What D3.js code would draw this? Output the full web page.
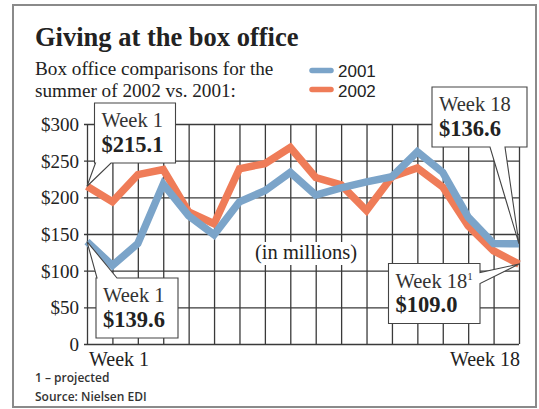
<!DOCTYPE html>
<html>
<head>
<meta charset="utf-8">
<script src="https://cdn.jsdelivr.net/npm/d3@7"></script>
<style>
  html, body { margin: 0; padding: 0; background: #fff; }
  svg { display: block; }
</style>
</head>
<body>
<svg id="chart" width="539" height="409"></svg>
<script>
// Weekly summer box office grosses, in millions of dollars
const weeks = d3.range(1, 19);
const gross2001 = [139.6, 107, 137, 218, 175, 149, 194, 209, 234, 203, 213, 221, 228, 262, 234, 173, 137, 136.6];
const gross2002 = [215.1, 194, 231, 238, 180, 164, 239, 246, 268, 227, 217, 182, 228, 240, 214, 161, 127, 109.0];
const seriesNames = ["2001", "2002"];
const seriesColors = ["#7ba4c9", "#ef7c58"];
const yTicks = [0, 50, 100, 150, 200, 250, 300];
const xLabels = ["Week 1", "Week 18"];

const serif = "'Liberation Serif', 'DejaVu Serif', serif";
const sans = "'Liberation Sans', 'DejaVu Sans', sans-serif";
const noteFont = "'Open Sans', 'Liberation Sans', sans-serif";
const ink = "#222";
const gridInk = "#3a3a3a";

const svg = d3.select("#chart");

// outer frame
svg.append("rect")
  .attr("x", 13).attr("y", 5).attr("width", 523).attr("height", 402)
  .attr("fill", "#fff").attr("stroke", "#8a8a8a").attr("stroke-width", 2);

// headings
svg.append("text")
  .attr("x", 35).attr("y", 46)
  .attr("font-family", serif).attr("font-weight", "bold").attr("font-size", 26.5)
  .attr("fill", ink)
  .text("Giving at the box office");

const sub = svg.append("text")
  .attr("font-family", serif).attr("font-size", 19.2).attr("fill", ink);
sub.append("tspan").attr("x", 35).attr("y", 74.5).text("Box office comparisons for the");
sub.append("tspan").attr("x", 35).attr("y", 97).text("summer of 2002 vs. 2001:");

// legend
const legend = svg.append("g");
seriesNames.forEach((name, i) => {
  const yy = 70.5 + i * 19;
  legend.append("line")
    .attr("x1", 312).attr("x2", 331).attr("y1", yy).attr("y2", yy)
    .attr("stroke", seriesColors[i]).attr("stroke-width", 5.5)
    .attr("stroke-linecap", "round");
  legend.append("text")
    .attr("x", 338).attr("y", yy + 6 + i * 1.5)
    .attr("font-family", sans).attr("font-size", 17).attr("fill", ink)
    .text(name);
});

// scales
const x = d3.scaleLinear().domain([1, 18]).range([87, 519]);
const y = d3.scaleLinear().domain([0, 300]).range([344, 124]);

// grid
const grid = svg.append("g");
grid.append("g")
  .attr("transform", `translate(${x(1)},0)`)
  .call(d3.axisLeft(y).tickValues(yTicks).tickSize(-(x(18) - x(1))).tickSizeOuter(0)
    .tickPadding(8).tickFormat(d => d === 0 ? "0" : "$" + d))
  .call(g => g.select(".domain").remove())
  .call(g => g.selectAll(".tick line").attr("x1", -3).attr("stroke", gridInk).attr("stroke-width", 1.3))
  .call(g => g.selectAll(".tick text")
    .attr("font-family", serif).attr("font-size", 19).attr("fill", ink).attr("dy", "0.34em"));

grid.append("g")
  .attr("transform", `translate(0,${y(0)})`)
  .call(d3.axisBottom(x).tickValues(weeks).tickSize(-(y(0) - y(300))).tickSizeOuter(0)
    .tickFormat(""))
  .call(g => g.select(".domain").remove())
  .call(g => g.selectAll(".tick line").attr("stroke", gridInk).attr("stroke-width", 1.3));

// x labels
svg.append("text")
  .attr("x", x(1) + 2).attr("y", 366)
  .attr("font-family", serif).attr("font-size", 20).attr("fill", ink)
  .text(xLabels[0]);
svg.append("text")
  .attr("x", x(18) + 1).attr("y", 366).attr("text-anchor", "end")
  .attr("font-family", serif).attr("font-size", 20).attr("fill", ink)
  .text(xLabels[1]);

// unit note with a white plate
svg.append("rect")
  .attr("x", 251).attr("y", 242).attr("width", 111).attr("height", 23).attr("fill", "#fff");
svg.append("text")
  .attr("x", 306).attr("y", 258.5).attr("text-anchor", "middle")
  .attr("font-family", serif).attr("font-size", 20.5).attr("fill", ink)
  .text("(in millions)");

// series lines
const line = d3.line().x((d, i) => x(weeks[i])).y(d => y(d));
[gross2002, gross2001].forEach((vals, k) => {
  const color = k === 0 ? seriesColors[1] : seriesColors[0];
  svg.append("path")
    .datum(vals)
    .attr("d", line)
    .attr("fill", "none")
    .attr("stroke", color).attr("stroke-width", 7.5)
    .attr("stroke-linejoin", "miter").attr("stroke-miterlimit", 3)
    .attr("stroke-linecap", "butt");
});

// callouts: box with a pointer to the labelled point
function callout(box, base, tip, line1, value, sup) {
  const g = svg.append("g");
  const [bx, by, bw, bh] = box;
  let pts;
  const L = bx, R = bx + bw, T = by, B = by + bh;
  if (base.side === "bottom") {
    pts = [[L, T], [R, T], [R, B], [base.b, B], tip, [base.a, B], [L, B]];
  } else if (base.side === "top") {
    pts = [[L, T], [base.a, T], tip, [base.b, T], [R, T], [R, B], [L, B]];
  } else { // right
    pts = [[L, T], [R, T], [R, base.a], tip, [R, base.b], [R, B], [L, B]];
  }
  g.append("path")
    .attr("d", d3.line()(pts) + "Z")
    .attr("fill", "#fff").attr("stroke", "#444").attr("stroke-width", 1.1)
    .attr("stroke-linejoin", "miter");
  const t1 = g.append("text")
    .attr("x", bx + 7).attr("y", by + 24)
    .attr("font-family", serif).attr("font-size", 20.5).attr("fill", "#333")
    .text(line1);
  if (sup) {
    t1.append("tspan").attr("font-size", 11).attr("dy", -8).text(sup);
  }
  g.append("text")
    .attr("x", bx + 7).attr("y", by + 48.5)
    .attr("font-family", serif).attr("font-weight", "bold").attr("font-size", 22.5)
    .attr("fill", ink)
    .text("$" + value.toFixed(1));
}

const first = 0, last = weeks.length - 1;
callout([94.5, 103, 81, 60], { side: "bottom", a: 95.5, b: 111 },
  [x(weeks[first]), y(gross2002[first])], "Week 1", gross2002[first]);
callout([96, 278, 82, 60], { side: "top", a: 97, b: 117 },
  [x(weeks[first]), y(gross2001[first])], "Week 1", gross2001[first]);
callout([432, 87, 95, 60], { side: "bottom", a: 490, b: 505 },
  [x(weeks[last]), y(gross2001[last])], "Week 18", gross2001[last]);
callout([388.5, 263.5, 91.5, 60], { side: "right", a: 272.5, b: 283.5 },
  [x(weeks[last]), y(gross2002[last])], "Week 18", gross2002[last], "1");

// footnotes
const foot = svg.append("text")
  .attr("font-family", noteFont).attr("font-weight", 600).attr("font-size", 12).attr("fill", "#333");
foot.append("tspan").attr("x", 35).attr("y", 381.5).text("1 \u2013 projected");
foot.append("tspan").attr("x", 35).attr("y", 400.5).text("Source: Nielsen EDI");
</script>
</body>
</html>
